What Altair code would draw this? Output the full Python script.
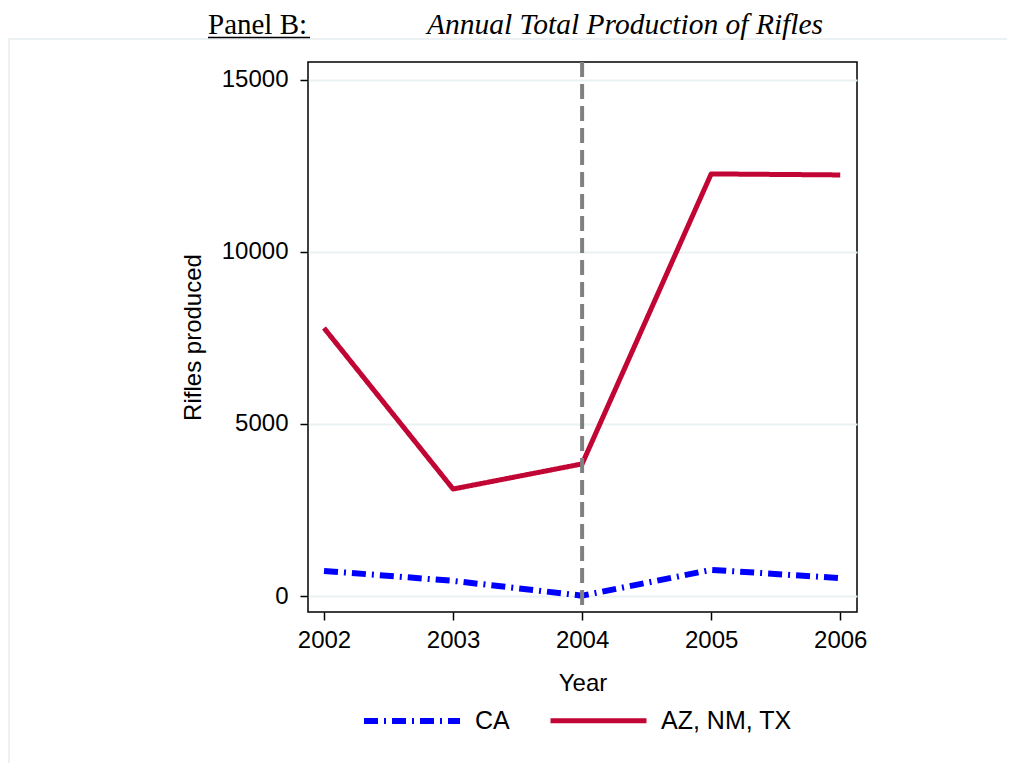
import altair as alt
import pandas as pd

years = [2002, 2003, 2004, 2005, 2006]
ca_values = [730, 440, 10, 760, 520]
south_values = [7790, 3110, 3840, 12270, 12240]
series_names = ["CA", "AZ, NM, TX"]
y_ticks = [0, 5000, 10000, 15000]
policy_year = 2004

rows = []
for yr, v in zip(years, ca_values):
    rows.append({"Year": yr, "Rifles": v, "Series": series_names[0]})
for yr, v in zip(years, south_values):
    rows.append({"Year": yr, "Rifles": v, "Series": series_names[1]})
df = pd.DataFrame(rows)

one = pd.DataFrame({"k": [0]})

xscale = alt.Scale(domain=[2001.876, 2006.13], nice=False, zero=False)
yscale = alt.Scale(domain=[-465, 15523], nice=False, zero=False)

legend_opts = dict(title=None, orient="none", direction="horizontal",
                   legendX=53, legendY=608, symbolType="stroke",
                   symbolSize=9216, symbolStrokeWidth=6,
                   labelFontSize=25, labelFont="Liberation Sans",
                   labelColor="#000000", labelOffset=12,
                   columnPadding=30)

lines = alt.Chart(df).mark_line(strokeJoin="round", strokeCap="butt", clip=False).encode(
    x=alt.X("Year:Q", scale=xscale,
            axis=alt.Axis(values=years, format="d", title="Year", grid=False,
                          tickSize=8, labelPadding=8, titlePadding=19)),
    y=alt.Y("Rifles:Q", scale=yscale,
            axis=alt.Axis(values=y_ticks, format="d", title="Rifles produced",
                          grid=True, tickSize=8, labelPadding=12, titlePadding=16)),
    color=alt.Color("Series:N",
                    scale=alt.Scale(domain=series_names, range=["#0000ff", "#c10534"]),
                    legend=alt.Legend(**legend_opts)),
    strokeDash=alt.StrokeDash("Series:N",
                              scale=alt.Scale(domain=series_names,
                                              range=[[14, 6, 2, 6], [1, 0]]),
                              legend=alt.Legend(**legend_opts)),
    strokeWidth=alt.StrokeWidth("Series:N",
                                scale=alt.Scale(domain=series_names, range=[6, 5]),
                                legend=None),
)

vline = alt.Chart(pd.DataFrame({"Year": [policy_year]})).mark_rule(
    color="#808080", strokeWidth=4, strokeDash=[15, 7]
).encode(x=alt.X("Year:Q", scale=xscale))

title_a = alt.Chart(one).mark_text(
    text="Panel B:", font="Liberation Serif", fontSize=29, align="left",
    baseline="alphabetic", color="#000000"
).encode(x=alt.value(-100), y=alt.value(-28))

underline = alt.Chart(one).mark_rule(color="#000000", strokeWidth=1.5).encode(
    x=alt.value(-100), x2=alt.value(2), y=alt.value(-24.5))

title_b = alt.Chart(one).mark_text(
    text="Annual Total Production of Rifles", font="Liberation Serif", fontSize=29.5,
    fontStyle="italic", align="left", baseline="alphabetic", color="#000000"
).encode(x=alt.value(119), y=alt.value(-28))

frame_h = alt.Chart(one).mark_rule(color="#e6eef0", strokeWidth=1.5).encode(
    x=alt.value(-300), x2=alt.value(720), y=alt.value(-23))
frame_v = alt.Chart(one).mark_rule(color="#e6eef0", strokeWidth=1.5).encode(
    x=alt.value(-299), y=alt.value(-23), y2=alt.value(720))

chart = alt.layer(frame_h, frame_v, lines, vline, title_a, underline, title_b).properties(
    width=549, height=550,
    autosize=alt.AutoSizeParams(type="none"),
    padding={"left": 300, "top": 54, "right": 150, "bottom": 151},
).configure_view(
    stroke="#000000", strokeWidth=1.5
).configure_axis(
    domain=False, tickColor="#000000", tickWidth=1.5,
    labelFont="Liberation Sans", labelFontSize=24, labelColor="#000000",
    titleFont="Liberation Sans", titleFontSize=24, titleColor="#000000",
    titleFontWeight="normal", gridColor="#eaf2f3", gridWidth=2,
)

chart.save("out.html", embed_options={"renderer": "svg", "actions": False})
